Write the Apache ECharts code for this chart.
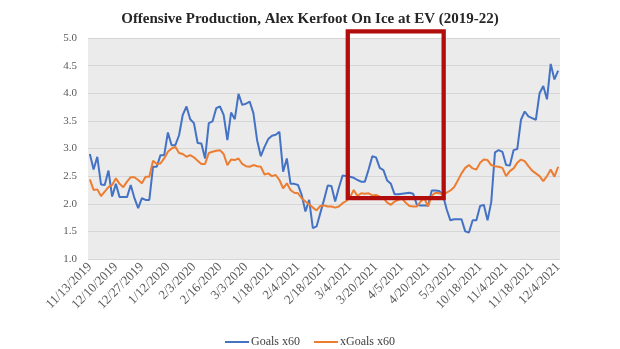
<!DOCTYPE html>
<html>
<head>
<meta charset="utf-8">
<script src="https://cdn.jsdelivr.net/npm/echarts@6/dist/echarts.min.js"></script>
<style>
html,body{margin:0;padding:0;background:#fff;}
#chart{width:620px;height:349px;}
</style>
</head>
<body>
<div id="chart"></div>
<script>
// Tick labels shown every 7th game on the category axis
var tickLabels = ['11/13/2019','12/10/2019','12/27/2019','1/12/2020','2/3/2020','2/16/2020','3/3/2020',
  '1/18/2021','2/4/2021','2/18/2021','3/4/2021','3/20/2021','4/5/2021','4/20/2021','5/3/2021',
  '10/18/2021','11/4/2021','11/18/2021','12/4/2021'];
var labelStep = 7;

var goals60 = [2.90,2.62,2.85,2.35,2.34,2.60,2.13,2.36,2.12,2.12,
  2.12,2.34,2.10,1.92,2.10,2.07,2.07,2.67,2.67,2.88,
  2.88,3.29,3.06,3.06,3.24,3.61,3.76,3.53,3.46,3.10,
  3.09,2.82,3.46,3.49,3.73,3.76,3.61,3.15,3.65,3.53,
  3.99,3.79,3.81,3.85,3.64,3.15,2.86,3.03,3.17,3.23,
  3.25,3.30,2.58,2.82,2.36,2.36,2.34,2.16,1.86,2.07,
  1.56,1.59,1.83,2.07,2.33,2.32,2.04,2.29,2.51,2.50,
  2.49,2.47,2.43,2.40,2.40,2.62,2.86,2.84,2.65,2.61,
  2.42,2.36,2.17,2.17,2.18,2.19,2.20,2.18,1.98,1.97,
  1.97,1.97,2.24,2.24,2.23,2.16,1.90,1.70,1.72,1.72,
  1.72,1.50,1.48,1.70,1.70,1.96,1.98,1.70,2.03,2.93,
  2.97,2.94,2.70,2.69,2.97,2.99,3.52,3.67,3.58,3.55,
  3.52,4.00,4.13,3.89,4.53,4.25,4.41];

var xGoals60 = [2.44,2.25,2.26,2.14,2.22,2.30,2.34,2.46,2.36,2.30,
  2.40,2.48,2.48,2.43,2.37,2.49,2.49,2.78,2.72,2.73,
  2.82,2.94,3.00,3.03,2.92,2.90,2.85,2.88,2.84,2.78,
  2.72,2.72,2.92,2.94,2.96,2.97,2.90,2.70,2.80,2.79,
  2.82,2.72,2.68,2.67,2.70,2.68,2.67,2.53,2.55,2.50,
  2.52,2.43,2.28,2.37,2.25,2.20,2.19,2.10,2.04,1.99,
  1.93,1.88,1.96,1.97,1.95,1.95,1.93,1.95,2.01,2.05,
  2.12,2.25,2.14,2.19,2.18,2.19,2.15,2.16,2.13,2.10,
  2.02,1.98,2.04,2.07,2.09,2.02,1.96,1.95,1.95,2.04,
  2.10,1.95,2.15,2.20,2.19,2.17,2.20,2.24,2.30,2.42,
  2.55,2.65,2.70,2.64,2.62,2.74,2.80,2.79,2.70,2.68,
  2.67,2.65,2.50,2.59,2.64,2.74,2.80,2.77,2.68,2.60,
  2.55,2.50,2.41,2.50,2.62,2.49,2.67];

// Highlight box (category index range and value range)
var boxRange = {x0: 69.4, x1: 95.2, y0: 2.10, y1: 5.12};

var categories = goals60.map(function (v, i) {
  return (i % labelStep === 0 && tickLabels[i / labelStep]) ? tickLabels[i / labelStep] : '';
});

var serif = '"Liberation Serif", "DejaVu Serif", serif';
var chart = echarts.init(document.getElementById('chart'), null, {renderer: 'canvas'});
chart.setOption({
  animation: false,
  title: {
    text: 'Offensive Production, Alex Kerfoot On Ice at EV (2019-22)',
    left: 'center', top: 7,
    textStyle: {fontFamily: serif, fontSize: 15, fontWeight: 'bold', color: '#262626'}
  },
  grid: {left: 88, right: 60, top: 38, bottom: 90, show: true, backgroundColor: '#ebebeb', borderWidth: 0},
  legend: {
    top: 331, left: 'center', itemWidth: 24, itemHeight: 2, itemGap: 14, icon: 'rect',
    textStyle: {fontFamily: serif, fontSize: 12, color: '#404040', padding: [0, 0, 0, -3]},
    data: ['Goals x60', 'xGoals x60']
  },
  xAxis: {
    type: 'category', data: categories, boundaryGap: true,
    axisLine: {show: false}, axisTick: {show: false},
    axisLabel: {interval: labelStep - 1, rotate: 45, margin: 6, fontFamily: serif, fontSize: 13, color: '#595959'},
    splitLine: {show: false}
  },
  yAxis: {
    type: 'value', min: 1, max: 5, interval: 0.5,
    axisLine: {show: false}, axisTick: {show: false},
    axisLabel: {margin: 11, fontFamily: serif, fontSize: 11, color: '#595959', formatter: function (v) { return v.toFixed(1); }},
    splitLine: {lineStyle: {color: '#d6d6d6', width: 1}}
  },
  series: [
    {name: 'Goals x60', type: 'line', data: goals60, symbol: 'none', lineStyle: {color: '#4472C4', width: 2}, itemStyle: {color: '#4472C4'}},
    {name: 'xGoals x60', type: 'line', data: xGoals60, symbol: 'none', lineStyle: {color: '#ED7D31', width: 2}, itemStyle: {color: '#ED7D31'}}
  ]
});

// Place the highlight box through the chart's own scales
var pA = chart.convertToPixel({gridIndex: 0}, [0, 1]);
var pB = chart.convertToPixel({gridIndex: 0}, [1, 2]);
var band = pB[0] - pA[0];
var unitY = pB[1] - pA[1];
var bx0 = pA[0] + boxRange.x0 * band;
var bx1 = pA[0] + boxRange.x1 * band;
var by0 = pA[1] + (boxRange.y1 - 1) * unitY;
var by1 = pA[1] + (boxRange.y0 - 1) * unitY;
chart.setOption({
  graphic: [{
    type: 'rect', z: 100,
    shape: {x: bx0, y: by0, width: bx1 - bx0, height: by1 - by0},
    style: {fill: 'none', stroke: '#B20D0D', lineWidth: 4.3}
  }]
});
</script>
</body>
</html>
